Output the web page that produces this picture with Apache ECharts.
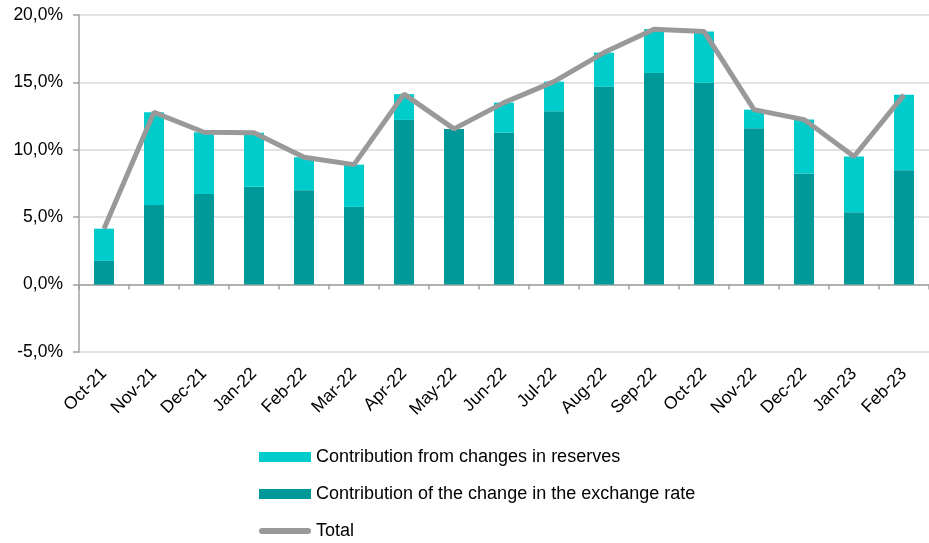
<!DOCTYPE html>
<html>
<head>
<meta charset="utf-8">
<script src="https://cdn.jsdelivr.net/npm/echarts@6/dist/echarts.min.js"></script>
<style>
  html, body { margin: 0; padding: 0; background: #fff; }
  #chart { width: 929px; height: 543px; }
</style>
</head>
<body>
<div id="chart"></div>
<script>
// Monthly categories
const months = ['Oct-21', 'Nov-21', 'Dec-21', 'Jan-22', 'Feb-22', 'Mar-22', 'Apr-22', 'May-22', 'Jun-22',
  'Jul-22', 'Aug-22', 'Sep-22', 'Oct-22', 'Nov-22', 'Dec-22', 'Jan-23', 'Feb-23'];

// Contribution of the change in the exchange rate (%)
const exchangeRate = [1.76, 5.91, 6.73, 7.25, 7.0, 5.77, 12.22, 11.55, 11.28, 12.86, 14.69, 15.7, 14.97, 11.6, 8.24, 5.37, 8.48];

// Contribution from changes in reserves (%)
const reserves = [2.39, 6.87, 4.57, 4.01, 2.45, 3.13, 1.91, 0.0, 2.22, 2.2, 2.52, 3.25, 3.81, 1.38, 4.0, 4.13, 5.6];

// Total (%)
const total = [4.15, 12.78, 11.3, 11.26, 9.45, 8.9, 14.13, 11.55, 13.5, 15.06, 17.21, 18.95, 18.78, 12.98, 12.24, 9.5, 14.08];

// Value axis ticks
const yMin = -5, yMax = 20, yStep = 5;

const FONT = 'Liberation Sans, Arial, sans-serif';
const pct = v => v.toFixed(1).replace('.', ',') + '%';

// Rounded bar used as the legend key of the total line
const lineKey = 'path://M3,0 L49,0 A3,3 0 0 1 49,6 L3,6 A3,3 0 0 1 3,0 Z';

const chart = echarts.init(document.getElementById('chart'), null, { renderer: 'canvas' });

chart.setOption({
  animation: false,
  backgroundColor: '#ffffff',
  textStyle: { fontFamily: FONT },
  grid: { left: 79, top: 15, width: 858.5, height: 337, containLabel: false },
  legend: {
    orient: 'vertical',
    left: 259,
    top: 448,
    padding: 0,
    itemWidth: 52,
    itemHeight: 10,
    itemGap: 19,
    symbolKeepAspect: true,
    textStyle: { fontFamily: FONT, fontSize: 18, color: '#000' },
    data: [
      { name: 'Contribution from changes in reserves', icon: 'rect' },
      { name: 'Contribution of the change in the exchange rate', icon: 'rect' },
      { name: 'Total', icon: lineKey, itemStyle: { color: '#999999' } }
    ]
  },
  xAxis: [
    {
      // category labels along the bottom edge
      type: 'category',
      data: months,
      boundaryGap: true,
      position: 'bottom',
      axisLine: { show: false, onZero: false },
      axisTick: { show: false },
      axisLabel: {
        rotate: 45,
        margin: 19,
        interval: 0,
        fontFamily: FONT,
        fontSize: 17.5,
        color: '#000'
      },
      splitLine: { show: false }
    },
    {
      // baseline through zero with ticks between months
      type: 'category',
      data: months,
      boundaryGap: true,
      position: 'bottom',
      axisLine: { show: true, onZero: true, lineStyle: { color: '#a0a0a0', width: 1.5 } },
      axisTick: { show: true, length: 5, interval: 0, lineStyle: { color: '#a0a0a0', width: 1.5 } },
      axisLabel: { show: false },
      splitLine: { show: false }
    }
  ],
  yAxis: {
    type: 'value',
    min: yMin,
    max: yMax,
    interval: yStep,
    axisLine: { show: true, lineStyle: { color: '#a0a0a0', width: 1.5 } },
    axisTick: { show: true, length: 6, lineStyle: { color: '#a0a0a0', width: 1.5 } },
    axisLabel: {
      margin: 16,
      fontFamily: FONT,
      fontSize: 17.5,
      color: '#000',
      formatter: pct
    },
    splitLine: { show: true, lineStyle: { color: '#d9d9d9', width: 1.5 } }
  },
  series: [
    {
      name: 'Contribution of the change in the exchange rate',
      type: 'bar',
      stack: 'contrib',
      xAxisIndex: 0,
      barWidth: 20,
      itemStyle: { color: '#009999' },
      data: exchangeRate
    },
    {
      name: 'Contribution from changes in reserves',
      type: 'bar',
      stack: 'contrib',
      xAxisIndex: 0,
      barWidth: 20,
      itemStyle: { color: '#00cccc' },
      data: reserves
    },
    {
      name: 'Total',
      type: 'line',
      xAxisIndex: 0,
      symbol: 'none',
      lineStyle: { color: '#999999', width: 5 },
      itemStyle: { color: '#999999' },
      z: 5,
      data: total
    }
  ]
});
</script>
</body>
</html>
